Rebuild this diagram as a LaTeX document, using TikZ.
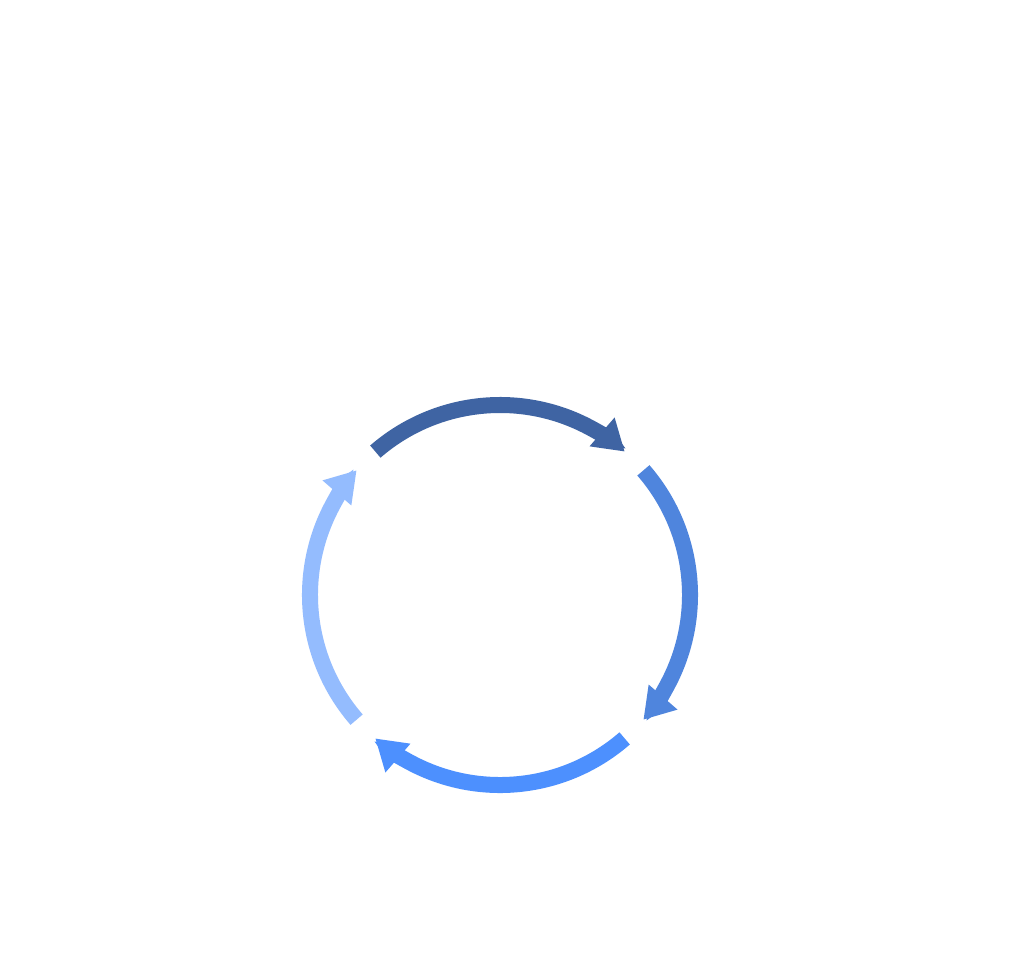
\documentclass[tikz,border=0pt]{standalone}
\usepackage{fontspec}
\setmainfont{Liberation Sans}
\usepackage{xcolor}
\usepackage{tikz}
\usetikzlibrary{arrows.meta,positioning}
\definecolor{stepa}{HTML}{3F64A3}
\definecolor{stepb}{HTML}{4F85DD}
\definecolor{stepc}{HTML}{4D90FE}
\definecolor{stepd}{HTML}{94BCFE}
\tikzset{
  ring/.style={-{Triangle[length=0.75cm,width=0.9cm]},line width=0.4cm},
  lbl/.style={text=white,font=\fontsize{24.9}{32}\selectfont\bfseries,inner sep=0pt},
  ttl/.style={text=white,font=\fontsize{33.5}{40}\selectfont\bfseries,inner sep=0pt}
}
\begin{document}
\begin{tikzpicture}[x=0.025cm,y=0.025cm]
\fill[white] (-500,-381) rectangle (524,595);
\useasboundingbox (-500,-381) rectangle (524,595);
\node[ttl] (title) at (5,487) {Ad Spend Management};
% cycle arcs, clockwise from the top
\foreach \s/\c in {131/stepa,41/stepb,-49/stepc,-139/stepd}{
  \draw[ring,\c] (\s:190) arc[start angle=\s,end angle=\s-68,radius=4.75cm]
    arc[start angle=\s-68,end angle=\s-82,radius=4.75cm];
}
\node[lbl,align=center] (track) at (0,283) {Track Regional\\Spending};
\node[lbl,align=left,anchor=west] (eval) at (245,-2) {Evaluate Ad\\Performance};
\node[lbl,align=center] (adjust) at (5,-263) {Adjust Budgets};
\node[lbl,align=right,anchor=east] (review) at (-242,3) {Review Live\\Ads};
\end{tikzpicture}
\end{document}
